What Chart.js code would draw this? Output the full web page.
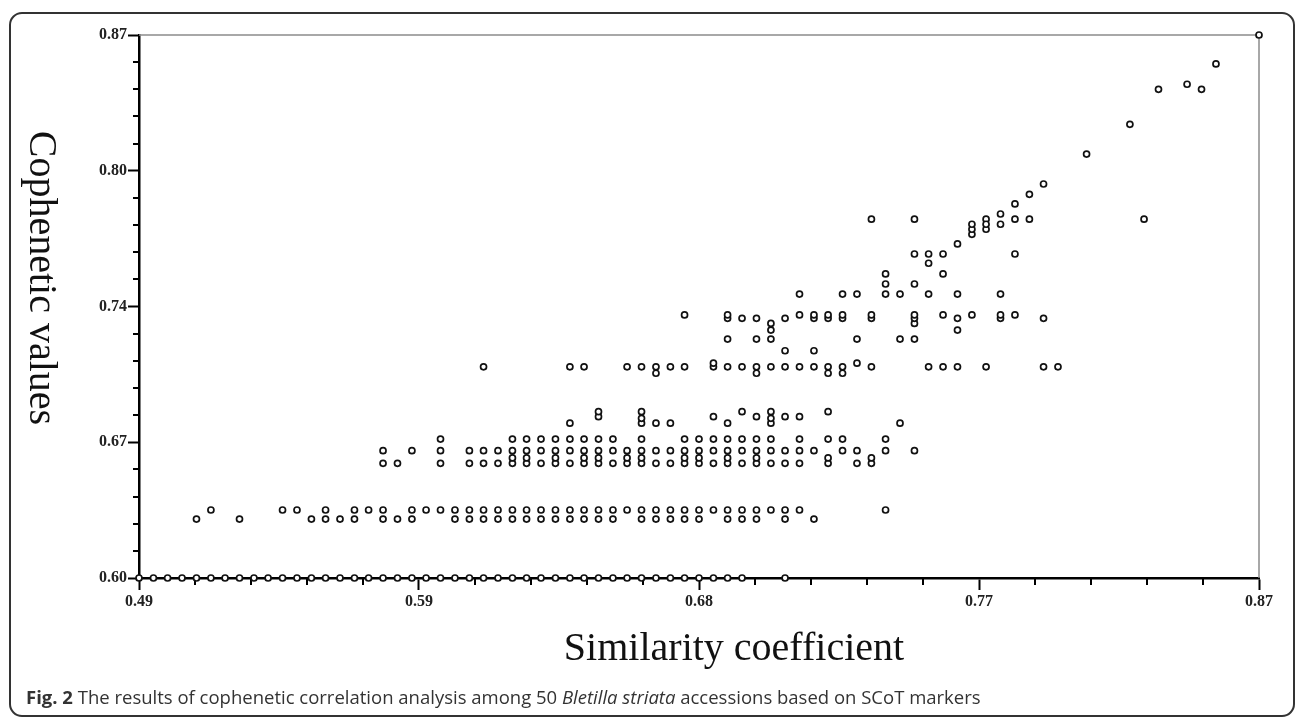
<!DOCTYPE html>
<html>
<head>
<meta charset="utf-8">
<title>Cophenetic correlation</title>
<script src="https://cdn.jsdelivr.net/npm/chart.js@4.4.0/dist/chart.umd.min.js"></script>
<style>
  html, body { margin: 0; padding: 0; background: #fff; }
  #fig { position: relative; width: 1295px; height: 718px; overflow: hidden; }
  #plot { position: absolute; left: 0; top: 0; }
  #frame {
    position: absolute; left: 9px; top: 12px; width: 1286px; height: 705px;
    border: 2px solid #333; border-radius: 13px; box-sizing: border-box;
  }
  #caption {
    position: absolute; left: 26px; top: 684px; white-space: nowrap;
    font-family: 'Open Sans', sans-serif; font-size: 18.5px; color: #333;
  }
</style>
</head>
<body>
<div id="fig">
  <div id="frame"></div>
  <canvas id="plot" width="1295" height="718"></canvas>
  <div id="caption"><b>Fig. 2</b> The results of cophenetic correlation analysis among 50 <i>Bletilla striata</i> accessions based on SCoT markers</div>
</div>
<script>
// axis ticks (labels are rounded in the original figure)
const xTickValues = [0.49, 0.585, 0.68, 0.775, 0.87];
const xTickLabels = ['0.49', '0.59', '0.68', '0.77', '0.87'];
const yTickValues = [0.60, 0.6675, 0.735, 0.8025, 0.87];
const yTickLabels = ['0.60', '0.67', '0.74', '0.80', '0.87'];

// similarity coefficient values, grouped by cophenetic value
const x0600 = [0.4900, 0.4949, 0.4997, 0.5046, 0.5095, 0.5144, 0.5192, 0.5241, 0.5290, 0.5338, 0.5387, 0.5436, 0.5485, 0.5533, 0.5582, 0.5631, 0.5679, 0.5728, 0.5777, 0.5826, 0.5874, 0.5923, 0.5972, 0.6021, 0.6069, 0.6118, 0.6167, 0.6215, 0.6264, 0.6313, 0.6362, 0.6410, 0.6459, 0.6508, 0.6556, 0.6605, 0.6654, 0.6703, 0.6751, 0.6800, 0.6849, 0.6897, 0.6946, 0.7092];
const x0629 = [0.5095, 0.5241, 0.5485, 0.5533, 0.5582, 0.5631, 0.5728, 0.5777, 0.5826, 0.5972, 0.6021, 0.6069, 0.6118, 0.6167, 0.6215, 0.6264, 0.6313, 0.6362, 0.6410, 0.6459, 0.6508, 0.6605, 0.6654, 0.6703, 0.6751, 0.6800, 0.6897, 0.6946, 0.6995, 0.7092, 0.7190];
const x0634 = [0.5144, 0.5387, 0.5436, 0.5533, 0.5631, 0.5679, 0.5728, 0.5826, 0.5874, 0.5923, 0.5972, 0.6021, 0.6069, 0.6118, 0.6167, 0.6215, 0.6264, 0.6313, 0.6362, 0.6410, 0.6459, 0.6508, 0.6556, 0.6605, 0.6654, 0.6703, 0.6751, 0.6800, 0.6849, 0.6897, 0.6946, 0.6995, 0.7044, 0.7092, 0.7141, 0.7433];
const x0657 = [0.5728, 0.5777, 0.5923, 0.6021, 0.6069, 0.6118, 0.6167, 0.6215, 0.6264, 0.6313, 0.6362, 0.6410, 0.6459, 0.6508, 0.6556, 0.6605, 0.6654, 0.6703, 0.6751, 0.6800, 0.6849, 0.6897, 0.6946, 0.6995, 0.7044, 0.7092, 0.7141, 0.7238, 0.7336, 0.7385];
const x0660 = [0.6167, 0.6215, 0.6313, 0.6410, 0.6459, 0.6556, 0.6605, 0.6751, 0.6800, 0.6897, 0.6995, 0.7238, 0.7385];
const x0663 = [0.5728, 0.5826, 0.5923, 0.6021, 0.6069, 0.6118, 0.6167, 0.6215, 0.6264, 0.6313, 0.6362, 0.6410, 0.6459, 0.6508, 0.6556, 0.6605, 0.6654, 0.6703, 0.6751, 0.6800, 0.6849, 0.6897, 0.6946, 0.6995, 0.7044, 0.7092, 0.7141, 0.7190, 0.7287, 0.7336, 0.7433, 0.7531];
const x0669 = [0.5923, 0.6167, 0.6215, 0.6264, 0.6313, 0.6362, 0.6410, 0.6459, 0.6508, 0.6605, 0.6751, 0.6800, 0.6849, 0.6897, 0.6946, 0.6995, 0.7044, 0.7141, 0.7238, 0.7287, 0.7433];
const x0677 = [0.6362, 0.6605, 0.6654, 0.6703, 0.6897, 0.7044, 0.7482];
const x0679 = [0.6605, 0.7044];
const x0680 = [0.6459, 0.6849, 0.6995, 0.7092, 0.7141];
const x0683 = [0.6459, 0.6605, 0.6946, 0.7044, 0.7238];
const x0702 = [0.6654, 0.6995, 0.7238, 0.7287];
const x0705 = [0.6069, 0.6362, 0.6410, 0.6556, 0.6605, 0.6654, 0.6703, 0.6751, 0.6849, 0.6897, 0.6946, 0.6995, 0.7044, 0.7092, 0.7141, 0.7190, 0.7238, 0.7287, 0.7385, 0.7579, 0.7628, 0.7677, 0.7774, 0.7969, 0.8018];
const x0707 = [0.6849, 0.7336];
const x0713 = [0.7092, 0.7190];
const x0719 = [0.6897, 0.6995, 0.7044, 0.7336, 0.7482, 0.7531];
const x0723 = [0.7044, 0.7677];
const x0727 = [0.7044, 0.7531];
const x0729 = [0.6897, 0.6946, 0.6995, 0.7092, 0.7190, 0.7238, 0.7287, 0.7385, 0.7531, 0.7677, 0.7823, 0.7969];
const x0731 = [0.6751, 0.6897, 0.7141, 0.7190, 0.7238, 0.7287, 0.7385, 0.7531, 0.7628, 0.7726, 0.7823, 0.7872];
const x0741 = [0.7141, 0.7287, 0.7336, 0.7433, 0.7482, 0.7579, 0.7677, 0.7823];
const x0746 = [0.7433, 0.7531];
const x0751 = [0.7433, 0.7628];
const x0757 = [0.7579];
const x0761 = [0.7531, 0.7579, 0.7628, 0.7872];
const x0778 = [0.7385, 0.7531, 0.7774, 0.7872, 0.7921, 0.8310];
// scattered points in the upper part: [similarity, cophenetic]
const upperPoints = [
  [0.7677, 0.7661], [0.7726, 0.7709], [0.7726, 0.7734], [0.7774, 0.7734],
  [0.7726, 0.7759], [0.7774, 0.7759], [0.7823, 0.7759], [0.7823, 0.7810],
  [0.7872, 0.7860], [0.7921, 0.7908], [0.7969, 0.7959], [0.8115, 0.8108],
  [0.8262, 0.8256], [0.8359, 0.8430], [0.8505, 0.8430], [0.8456, 0.8455],
  [0.8554, 0.8556], [0.8700, 0.8700]
];

const rows = [
  [0.6000, x0600], [0.6293, x0629], [0.6338, x0634], [0.6570, x0657],
  [0.6597, x0660], [0.6633, x0663], [0.6691, x0669], [0.6770, x0677],
  [0.6794, x0679], [0.6802, x0680], [0.6827, x0683], [0.7018, x0702],
  [0.7050, x0705], [0.7068, x0707], [0.7130, x0713], [0.7188, x0719],
  [0.7233, x0723], [0.7266, x0727], [0.7291, x0729], [0.7308, x0731],
  [0.7412, x0741], [0.7462, x0746], [0.7512, x0751], [0.7565, x0757],
  [0.7611, x0761], [0.7784, x0778]
];

const points = [];
rows.forEach(([yv, xs]) => xs.forEach(xv => points.push({ x: xv, y: yv })));
upperPoints.forEach(([xv, yv]) => points.push({ x: xv, y: yv }));

const tickFont = { family: "'Liberation Serif', 'Times New Roman', serif", weight: 'bold', size: 16 };

// minor ticks, grey top/right frame, and the two axis titles
const decorations = {
  id: 'decorations',
  beforeDatasetsDraw(chart) {
    const { ctx, chartArea: a } = chart;
    ctx.save();
    ctx.strokeStyle = '#8c8c8c';
    ctx.lineWidth = 1.5;
    ctx.beginPath();
    ctx.moveTo(a.left, a.top);
    ctx.lineTo(a.right, a.top);
    ctx.lineTo(a.right, a.bottom);
    ctx.stroke();

    ctx.strokeStyle = '#000';
    ctx.lineWidth = 2;
    ctx.beginPath();
    const sx = chart.scales.x, sy = chart.scales.y;
    for (let i = 0; i < xTickValues.length - 1; i++) {
      const step = (xTickValues[i + 1] - xTickValues[i]) / 5;
      for (let j = 1; j < 5; j++) {
        const px = Math.round(sx.getPixelForValue(xTickValues[i] + j * step));
        ctx.moveTo(px, a.bottom);
        ctx.lineTo(px, a.bottom + 7);
      }
    }
    for (let i = 0; i < yTickValues.length - 1; i++) {
      const step = (yTickValues[i + 1] - yTickValues[i]) / 5;
      for (let j = 1; j < 5; j++) {
        const py = Math.round(sy.getPixelForValue(yTickValues[i] + j * step));
        ctx.moveTo(a.left, py);
        ctx.lineTo(a.left - 6, py);
      }
    }
    ctx.stroke();
    ctx.restore();
  },
  afterDraw(chart) {
    const { ctx } = chart;
    ctx.save();
    ctx.fillStyle = '#111';
    ctx.font = "40px 'Liberation Serif', 'Times New Roman', serif";
    ctx.textAlign = 'center';
    ctx.textBaseline = 'alphabetic';
    ctx.fillText('Similarity coefficient', 734, 660);

    ctx.translate(30, 278);
    ctx.rotate(Math.PI / 2);
    ctx.fillText('Cophenetic values', 0, 0);
    ctx.restore();
  }
};

new Chart(document.getElementById('plot'), {
  type: 'scatter',
  data: {
    datasets: [{
      data: points,
      pointRadius: 3,
      pointHoverRadius: 3,
      pointBorderWidth: 1.7,
      borderColor: '#111',
      backgroundColor: '#fff',
      clip: false
    }]
  },
  options: {
    responsive: false,
    animation: false,
    events: [],
    layout: { padding: { left: 0, top: 35, right: 36, bottom: 0 } },
    plugins: { legend: { display: false }, tooltip: { enabled: false } },
    scales: {
      x: {
        type: 'linear',
        min: 0.49,
        max: 0.87,
        afterBuildTicks: s => { s.ticks = xTickValues.map(v => ({ value: v })); },
        afterFit: s => { s.height = 140; },
        ticks: {
          callback: (v, i) => xTickLabels[i],
          font: tickFont,
          color: '#222',
          padding: 2,
          maxRotation: 0,
          autoSkip: false
        },
        grid: { drawOnChartArea: false, tickLength: 12, tickColor: '#000', tickWidth: 2 },
        border: { color: '#000', width: 2.5 }
      },
      y: {
        type: 'linear',
        min: 0.60,
        max: 0.87,
        afterBuildTicks: s => { s.ticks = yTickValues.map(v => ({ value: v })); },
        afterFit: s => { s.width = 139; },
        ticks: {
          callback: (v, i) => yTickLabels[i],
          font: tickFont,
          color: '#222',
          padding: 1,
          autoSkip: false
        },
        grid: { drawOnChartArea: false, tickLength: 11, tickColor: '#000', tickWidth: 2 },
        border: { color: '#000', width: 2.5 }
      }
    }
  },
  plugins: [decorations]
});
</script>
</body>
</html>
